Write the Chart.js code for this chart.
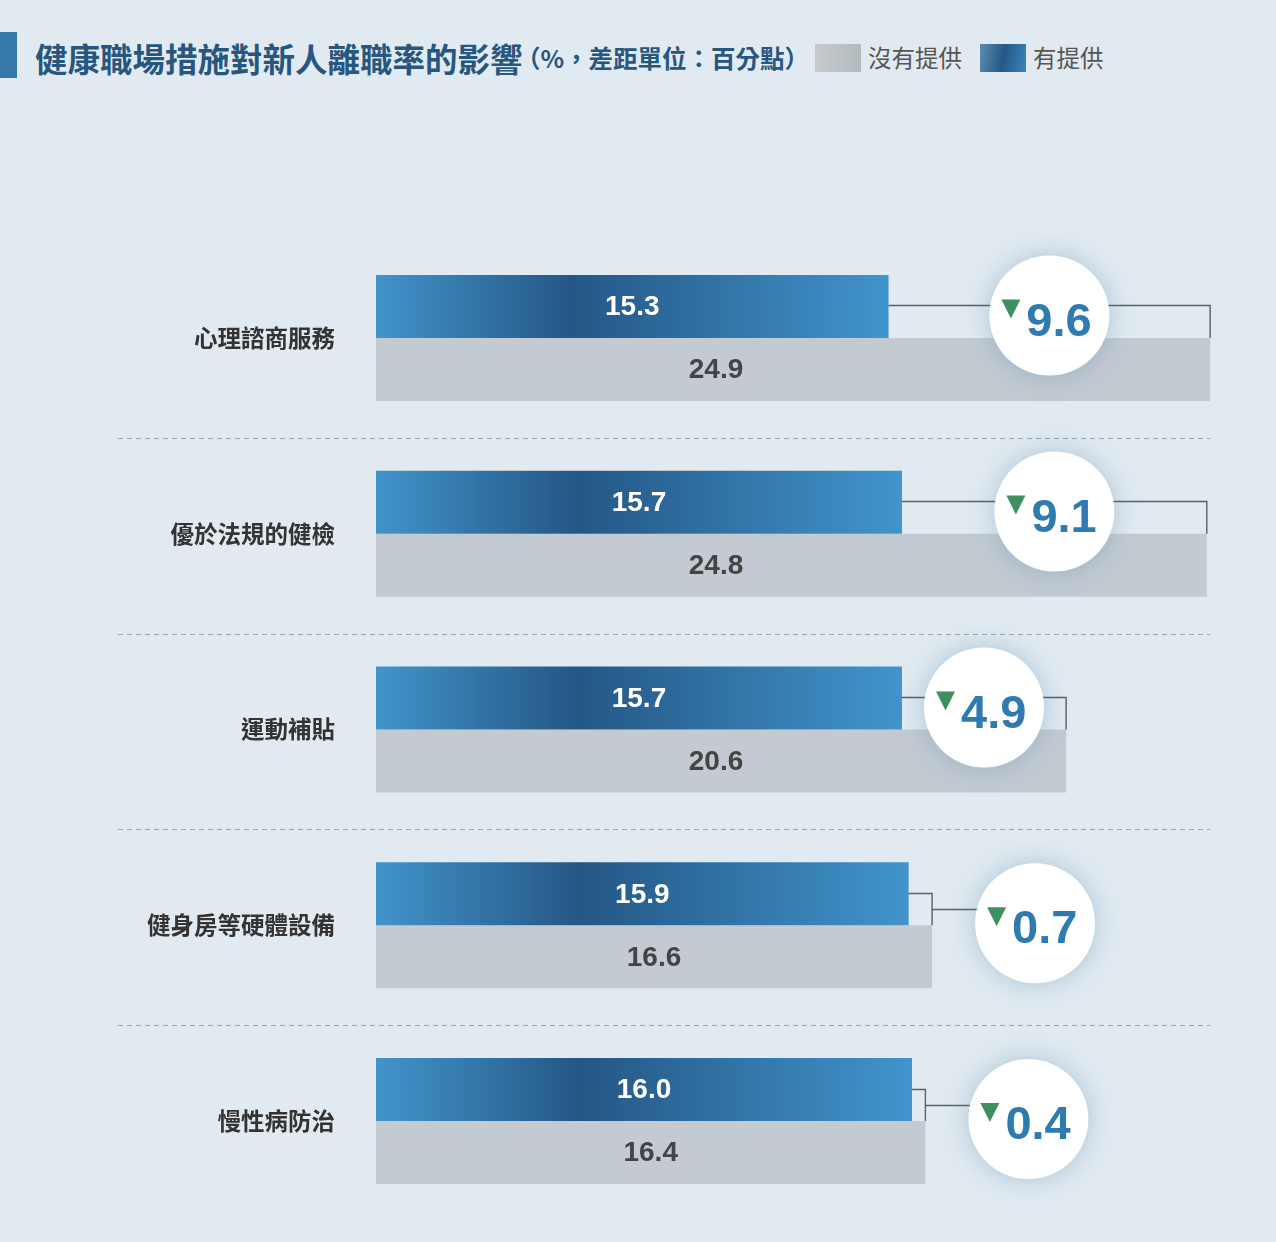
<!DOCTYPE html>
<html>
<head>
<meta charset="utf-8">
<script src="https://cdn.jsdelivr.net/npm/chart.js@4.4.1/dist/chart.umd.min.js"></script>
<style>
  html, body { margin: 0; padding: 0; background: #e1eaf0; }
  #wrap { position: relative; width: 1276px; height: 1242px; overflow: hidden; }
  #chart { position: absolute; left: 0; top: 0; width: 1276px; height: 1242px; }
  .hd { position: absolute; top: 58px; transform: translateY(-50%); white-space: nowrap;
        font-family: "Noto Sans CJK TC", "Noto Sans", sans-serif; line-height: 1; }
  #titleBar { position: absolute; left: 0; top: 32px; width: 17px; height: 46px; background: #3479aa; }
  #title { left: 35px; font-size: 32.5px; font-weight: 700; color: #27577f; }
  #sub { left: 516px; font-size: 24.5px; font-weight: 700; color: #27577f; }
  .box { position: absolute; top: 44px; width: 46px; height: 28px; }
  #boxGray { left: 815px; background: linear-gradient(90deg, #c5cbcd, #b3babd); }
  #boxBlue { left: 980px; background: linear-gradient(100deg, #5e8db0 0%, #245886 50%, #3b86bb 100%); }
  .lg { font-size: 23.5px; font-weight: 400; color: #555; }
  #lgGray { left: 868px; }
  #lgBlue { left: 1033px; }
</style>
</head>
<body>
<div id="wrap">
  <div id="titleBar"></div>
  <div class="hd" id="title">健康職場措施對新人離職率的影響</div>
  <div class="hd" id="sub">（%，差距單位：百分點）</div>
  <div class="box" id="boxGray"></div>
  <div class="hd lg" id="lgGray">沒有提供</div>
  <div class="box" id="boxBlue"></div>
  <div class="hd lg" id="lgBlue">有提供</div>
  <canvas id="chart" width="1276" height="1242"></canvas>
</div>
<script>
// ===============================
// DATA
// ===============================
const categories = ["心理諮商服務", "優於法規的健檢", "運動補貼", "健身房等硬體設備", "慢性病防治"];
const providedRates = [15.3, 15.7, 15.7, 15.9, 16.0];     // 有提供
const notProvidedRates = [24.9, 24.8, 20.6, 16.6, 16.4];  // 沒有提供
const gapLabels = [9.6, 9.1, 4.9, 0.7, 0.4];              // 差距（百分點）
const seriesNames = ["有提供", "沒有提供"];

const numFont = '"Liberation Sans", Arial, sans-serif';

// ===============================
// BAR FILLS
// ===============================
function blueFill(ctx) {
  const chart = ctx.chart;
  if (!chart.chartArea || ctx.type !== "data") return "#3478a9";
  const xs = chart.scales.x;
  const x0 = xs.getPixelForValue(0);
  const x1 = xs.getPixelForValue(ctx.raw);
  const g = chart.ctx.createLinearGradient(x0, 0, x1, 0);
  g.addColorStop(0, "#4294cb");
  g.addColorStop(0.38, "#245785");
  g.addColorStop(1, "#4194cc");
  return g;
}

// ===============================
// SEPARATORS (dashed lines between rows)
// ===============================
const separators = {
  id: "separators",
  beforeDatasetsDraw(chart) {
    const c = chart.ctx;
    const ys = chart.scales.y;
    c.save();
    c.strokeStyle = "#9aa3ab";
    c.lineWidth = 1;
    c.setLineDash([5, 4]);
    for (let i = 0; i < categories.length - 1; i++) {
      const y = Math.round((ys.getPixelForValue(i) + ys.getPixelForValue(i + 1)) / 2 + 2) + 0.5;
      c.beginPath();
      c.moveTo(118, y);
      c.lineTo(1210, y);
      c.stroke();
    }
    c.restore();
  }
};

// ===============================
// VALUE LABELS + GAP BUBBLES
// ===============================
const gapBubbles = {
  id: "gapBubbles",
  afterDatasetsDraw(chart) {
    const c = chart.ctx;
    const xs = chart.scales.x;
    const blue = chart.getDatasetMeta(0).data;
    const gray = chart.getDatasetMeta(1).data;
    const x0 = xs.getPixelForValue(0);
    const labelLimit = xs.getPixelForValue(20.3);

    c.save();
    c.textBaseline = "middle";
    c.textAlign = "center";
    c.font = "bold 28px " + numFont;
    blue.forEach((b, i) => {
      const g = gray[i];
      c.fillStyle = "#ffffff";
      c.fillText(providedRates[i].toFixed(1), (x0 + b.x) / 2, b.y + 1);
      c.fillStyle = "#444444";
      c.fillText(notProvidedRates[i].toFixed(1), (x0 + Math.min(g.x, labelLimit)) / 2, g.y + 1);
    });
    c.restore();

    blue.forEach((b, i) => {
      const g = gray[i];
      const lineY = Math.round(b.y - 1) + 0.5;
      const grayTop = g.y - g.height / 2;
      let cx, cy;

      c.save();
      c.strokeStyle = "#5a5f64";
      c.lineWidth = 1.4;
      c.beginPath();
      c.moveTo(b.x, lineY);
      c.lineTo(g.x, lineY);
      c.lineTo(g.x, grayTop);
      if (g.x - b.x > 120) {
        cx = (b.x + g.x) / 2;
        cy = lineY + 10;
      } else {
        cx = g.x + 103;
        cy = grayTop - 2;
        const tickY = Math.round((lineY + grayTop) / 2) + 0.5;
        c.moveTo(g.x, tickY);
        c.lineTo(cx - 58, tickY);
      }
      c.stroke();
      c.restore();

      // bubble
      c.save();
      c.shadowColor = "rgba(80, 135, 175, 0.38)";
      c.shadowBlur = 26;
      c.fillStyle = "#ffffff";
      c.beginPath();
      c.arc(cx, cy, 60, 0, Math.PI * 2);
      c.fill();
      c.restore();

      c.save();
      c.fillStyle = "#3f8f5f";
      c.beginPath();
      c.moveTo(cx - 48, cy - 16);
      c.lineTo(cx - 29, cy - 16);
      c.lineTo(cx - 38.5, cy + 3);
      c.closePath();
      c.fill();
      c.fillStyle = "#2f7aae";
      c.font = "bold 47px " + numFont;
      c.textAlign = "left";
      c.textBaseline = "alphabetic";
      c.fillText(gapLabels[i].toFixed(1), cx - 23, cy + 20);
      c.restore();
    });
  }
};

// ===============================
// CHART
// ===============================
new Chart(document.getElementById("chart"), {
  type: "bar",
  data: {
    labels: categories,
    datasets: [
      {
        label: seriesNames[0],
        data: providedRates,
        backgroundColor: blueFill,
        borderWidth: 0,
        barPercentage: 1,
        categoryPercentage: 0.6435
      },
      {
        label: seriesNames[1],
        data: notProvidedRates,
        backgroundColor: "#c3cad1",
        borderWidth: 0,
        barPercentage: 1,
        categoryPercentage: 0.6435
      }
    ]
  },
  options: {
    indexAxis: "y",
    responsive: false,
    maintainAspectRatio: false,
    animation: false,
    layout: { padding: { top: 240, bottom: 23, left: 0, right: 62.5 } },
    plugins: {
      legend: { display: false },
      tooltip: { enabled: false }
    },
    scales: {
      x: { display: false, min: 0, max: 25 },
      y: {
        grid: { display: false, drawTicks: false },
        border: { display: false },
        ticks: {
          padding: 41,
          color: "#333333",
          font: { family: '"Noto Sans CJK TC", sans-serif', size: 23.5, weight: "bold" }
        },
        afterFit(scale) {
          scale.width = 376;
          scale.paddingTop = 0;
          scale.paddingBottom = 0;
        }
      }
    }
  },
  plugins: [separators, gapBubbles]
});
</script>
</body>
</html>
